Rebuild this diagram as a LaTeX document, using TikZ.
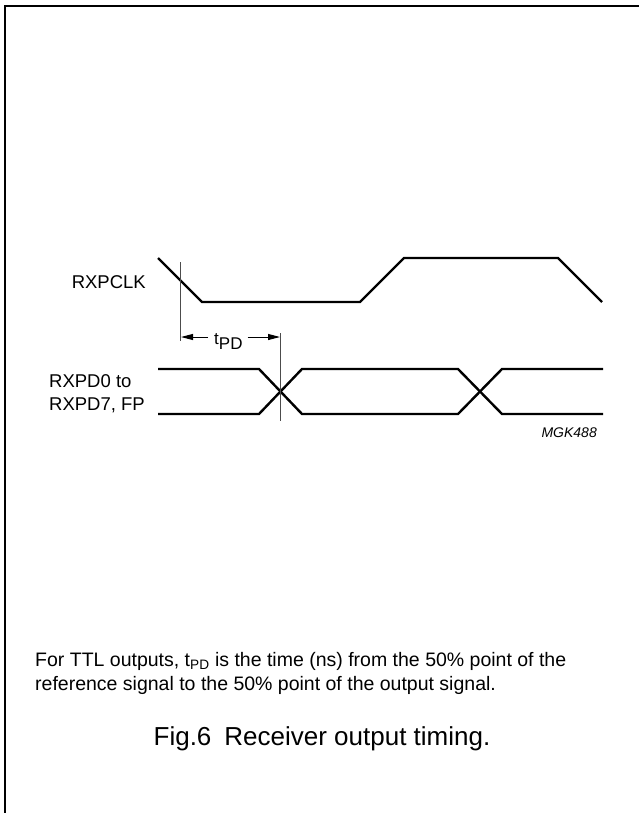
\documentclass[tikz,border=0pt]{standalone}
\usepackage{fontspec}
\setmainfont{Liberation Sans}
\usetikzlibrary{arrows.meta}
\begin{document}
\begin{tikzpicture}[x=1pt,y=-1pt,
  frame/.style={line width=2pt},
  wave/.style={line width=2.4pt, line join=miter},
  refline/.style={line width=0.9pt, black!70},
  dimline/.style={line width=1pt, -{Triangle[length=12pt,width=6pt]}},
  lbl/.style={font=\fontsize{18.5}{23}\selectfont, inner sep=0pt},
  note/.style={font=\fontsize{19.5}{23.5}\selectfont, inner sep=0pt, align=left},
  capt/.style={font=\fontsize{26}{30}\selectfont, inner sep=0pt},
  code/.style={font=\fontsize{14}{16}\selectfont\itshape, inner sep=0pt}]
\useasboundingbox (0,0) rectangle (639,813);
% frame
\draw[frame] (5,813) -- (5,6) -- (639,6);
% labels
\node[lbl, anchor=base east] (clk) at (146,288) {RXPCLK};
\node[lbl, anchor=base west, align=left] (data) at (49,410) {RXPD0 to\\RXPD7, FP};
% clock waveform
\draw[wave] (158,258) -- (202,302) -- (360,302) -- (404,258) -- (558,258) -- (602,302);
% data waveforms
\draw[wave] (158,369) -- (259,369) -- (302,414) -- (458,414) -- (502,369) -- (603,369);
\draw[wave] (158,414) -- (259,414) -- (302,369) -- (458,369) -- (502,414) -- (603,414);
% reference lines
\coordinate (r1t) at (180.5,262);
\coordinate (r1b) at (180.5,341);
\coordinate (r2t) at (280.5,333);
\coordinate (r2b) at (280.5,421);
\draw[refline] (r1t) -- (r1b);
\draw[refline] (r2t) -- (r2b);
% tPD
\node[inner sep=0pt, anchor=base west, font=\fontsize{17}{20}\selectfont] (tpd) at (214,344) {t\raisebox{-5pt}{PD}};
\coordinate (a1) at (181,337);
\coordinate (a2) at (280,337);
\draw[dimline] ([xshift=-6pt]tpd.west |- a1) -- (a1);
\draw[dimline] ([xshift=5pt]tpd.east |- a2) -- (a2);
% code
\node[code, anchor=base east] (mgk) at (597,437) {MGK488};
% note
\node[note, anchor=base west] (nt) at (35,690) {For TTL outputs, t\textsubscript{PD} is the time (ns) from the 50\% point of the\\reference signal to the 50\% point of the output signal.};
% caption
\node[capt, anchor=base] (cap) at (322,745) {Fig.6\hspace{0.5em}Receiver output timing.};
\end{tikzpicture}
\end{document}
